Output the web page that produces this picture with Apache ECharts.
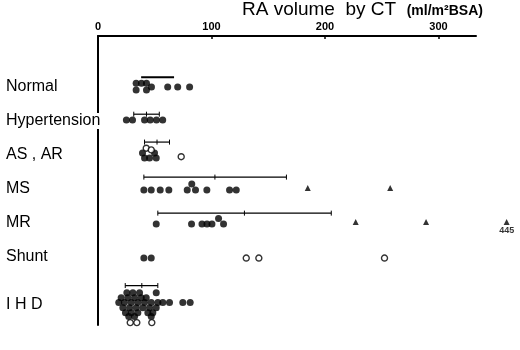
<!DOCTYPE html>
<html><head><meta charset="utf-8">
<script src="https://cdn.jsdelivr.net/npm/echarts@6/dist/echarts.min.js"></script>
<style>html,body{margin:0;padding:0;background:#fff}#c{width:520px;height:350px}</style>
</head><body><div id="c"></div>
<script>
// Row labels and their vertical positions (row units)
const categories = ['Normal', 'Hypertension', 'AS , AR', 'MS', 'MR', 'Shunt', 'I H D'];
const rowPos = [1, 2, 3, 4, 5, 6, 7.4];
const xTicks = [0, 100, 200, 300];

// Points: [RA volume (ml/m2 BSA), row index, stack level within the row's swarm]
const filledPoints = [
  // Normal
  [33.6,0,-1.1],[33.6,0,0.9],[38.3,0,-1.1],[42.7,0,-1.1],[42.7,0,0.9],[47.1,0,0],[61.4,0,0],[70.2,0,0],[80.7,0,0],
  // Hypertension
  [25,1,-0.3],[30.4,1,-0.3],[41,1,-0.3],[46,1,-0.3],[51.5,1,-0.3],[57,1,-0.3],
  // AS, AR
  [39.2,2,-0.6],[49.8,2,-0.6],[41,2,0.9],[45.4,2,0.9],[51.3,2,0.9],
  // MS
  [40.4,3,0.3],[46.9,3,0.3],[54.8,3,0.3],[62.4,3,0.3],[78.6,3,0.3],[82.6,3,-1.5],[85.9,3,0.3],[95.9,3,0.3],[115.9,3,0.3],[121.8,3,0.3],
  // MR
  [51.3,4,0.3],[82.4,4,0.3],[91.6,4,0.3],[96,4,0.3],[100.4,4,0.3],[106.2,4,-1.3],[110.6,4,0.3],
  // Shunt
  [40.4,5,0.3],[46.9,5,0.3],
  // IHD
  [25.4,6,-3.5],[30.7,6,-3.5],[36.6,6,-3.5],[51.3,6,-3.5],
  [20.4,6,-2],[26.3,6,-2],[32.2,6,-2],[38.1,6,-2],[42.5,6,-2],
  [18.3,6,-0.6],[23.3,6,-0.6],[29.3,6,-0.6],[35.1,6,-0.6],[41,6,-0.6],[46.9,6,-0.6],[52.7,6,-0.6],[57.1,6,-0.6],[63,6,-0.6],[74.7,6,-0.6],[81.2,6,-0.6],
  [21.9,6,0.9],[27.8,6,0.9],[33.7,6,0.9],[39.5,6,0.9],[45.4,6,0.9],[51.3,6,0.9],
  [24.2,6,2.4],[29.3,6,2.4],[35.1,6,2.4],[43.9,6,2.4],[48.3,6,2.4],
  [27.1,6,3.5],[32.2,6,3.5],[46.9,6,3.5]
];
const openPoints = [
  [42.5,2,-2],[46.9,2,-1.5],[73.3,2,0.5],
  [130.6,5,0.3],[141.7,5,0.3],[252.4,5,0.3],
  [28.4,6,5.3],[34.2,6,5.3],[47.4,6,5.3]
];
const trianglePoints = [
  [184.8,3,-0.3],[257.4,3,-0.3],
  [227,4,-0.3],[289,4,-0.3],[445,4,-0.3]
];

// Mean ± SD bars per row (null = none)
const barLow  = [38,   31.5, 41, 40.4, 52.7,  null, 24];
const barMean = [52.5, 42.7, 52, 103,  129,   null, 38.6];
const barHigh = [67,   54,   63, 166,  205.5, null, 52.7];
const barLevel = [-2.9, -2, -3.8, -3.5, -2.9, null, -5.6];

// Broken axis: values beyond the axis end are drawn just past it
const AXIS_MAX = 333, AXIS_BREAK = 340, BREAK_DISPLAY = 360;
const LEVEL = 0.1;

const FONT = 'Liberation Sans, Arial, sans-serif';
function toPt(p) {
  const v = p[0] > AXIS_BREAK ? BREAK_DISPLAY : p[0];
  const item = { value: [v, rowPos[p[1]] + p[2] * LEVEL] };
  if (p[0] > AXIS_BREAK) {
    item.label = { show: true, position: 'bottom', distance: 1, formatter: String(p[0]),
      fontSize: 9, fontWeight: 'bold', color: '#000', fontFamily: FONT };
  }
  return item;
}
const barData = [];
barLow.forEach((lo, i) => {
  if (lo == null) return;
  barData.push([lo, barMean[i], barHigh[i], rowPos[i] + barLevel[i] * LEVEL, i]);
});

const chart = echarts.init(document.getElementById('c'), null, { renderer: 'canvas' });
chart.setOption({
  backgroundColor: '#fff',
  animation: false,
  title: {
    text: 'RA volume  by CT  {s|(ml/m²BSA)}',
    left: 242, top: 0, padding: 0,
    textStyle: { fontFamily: FONT, fontSize: 19, fontWeight: 'normal', color: '#000',
      rich: { s: { fontFamily: FONT, fontSize: 14, fontWeight: 'bold', color: '#000', verticalAlign: 'bottom', padding: [0, 0, 1, 0] } } }
  },
  grid: { left: 98, right: 44, top: 36, bottom: 25, containLabel: false },
  xAxis: {
    type: 'value', position: 'top', min: 0, max: AXIS_MAX, interval: 100,
    axisLine: { show: true, onZero: false, lineStyle: { color: '#000', width: 2 } },
    axisTick: { show: true, inside: true, length: 3, customValues: xTicks.slice(1), lineStyle: { color: '#000', width: 1.5 } },
    axisLabel: { show: true, customValues: xTicks, margin: 4, fontSize: 11, fontWeight: 'bold', color: '#000', fontFamily: FONT,
      formatter: v => (xTicks.indexOf(v) >= 0 ? String(v) : '') },
    splitLine: { show: false }
  },
  yAxis: {
    type: 'value', inverse: true, min: -0.5, max: 8.0,
    axisLine: { show: true, onZero: false, lineStyle: { color: '#000', width: 2 } },
    axisTick: { show: false },
    splitLine: { show: false },
    axisLabel: {
      show: true, customValues: rowPos, align: 'left', margin: 92,
      fontSize: 16, color: '#000', fontFamily: FONT, backgroundColor: '#fff',
      formatter: v => { const i = rowPos.findIndex(r => Math.abs(r - v) < 1e-6); return i >= 0 ? categories[i] : ''; }
    }
  },
  series: [
    {
      type: 'custom', data: barData, clip: false,
      renderItem: (params, api) => {
        const y = api.value(3);
        const lo = api.coord([api.value(0), y]);
        const mid = api.coord([api.value(1), y]);
        const hi = api.coord([api.value(2), y]);
        const thick = api.value(4) === 0;
        const h = thick ? 0 : 2.5;
        const st = { stroke: '#000', lineWidth: thick ? 2 : 1.2 };
        const kids = [{ type: 'line', shape: { x1: lo[0], y1: lo[1], x2: hi[0], y2: hi[1] }, style: st }];
        if (!thick) {
          [lo, mid, hi].forEach(p => kids.push({ type: 'line', shape: { x1: p[0], y1: p[1] - h, x2: p[0], y2: p[1] + h }, style: { stroke: '#000', lineWidth: 1 } }));
        }
        return { type: 'group', children: kids };
      }
    },
    {
      type: 'scatter', data: filledPoints.map(toPt), symbol: 'circle', symbolSize: 7, clip: false,
      itemStyle: { color: '#000' }
    },
    {
      type: 'scatter', data: openPoints.map(toPt), symbol: 'circle', symbolSize: 6, clip: false,
      itemStyle: { color: '#fff', borderColor: '#000', borderWidth: 1.4 }
    },
    {
      type: 'scatter', data: trianglePoints.map(toPt), symbol: 'triangle', symbolSize: 6, clip: false,
      itemStyle: { color: '#000' }
    }
  ]
});
</script></body></html>
